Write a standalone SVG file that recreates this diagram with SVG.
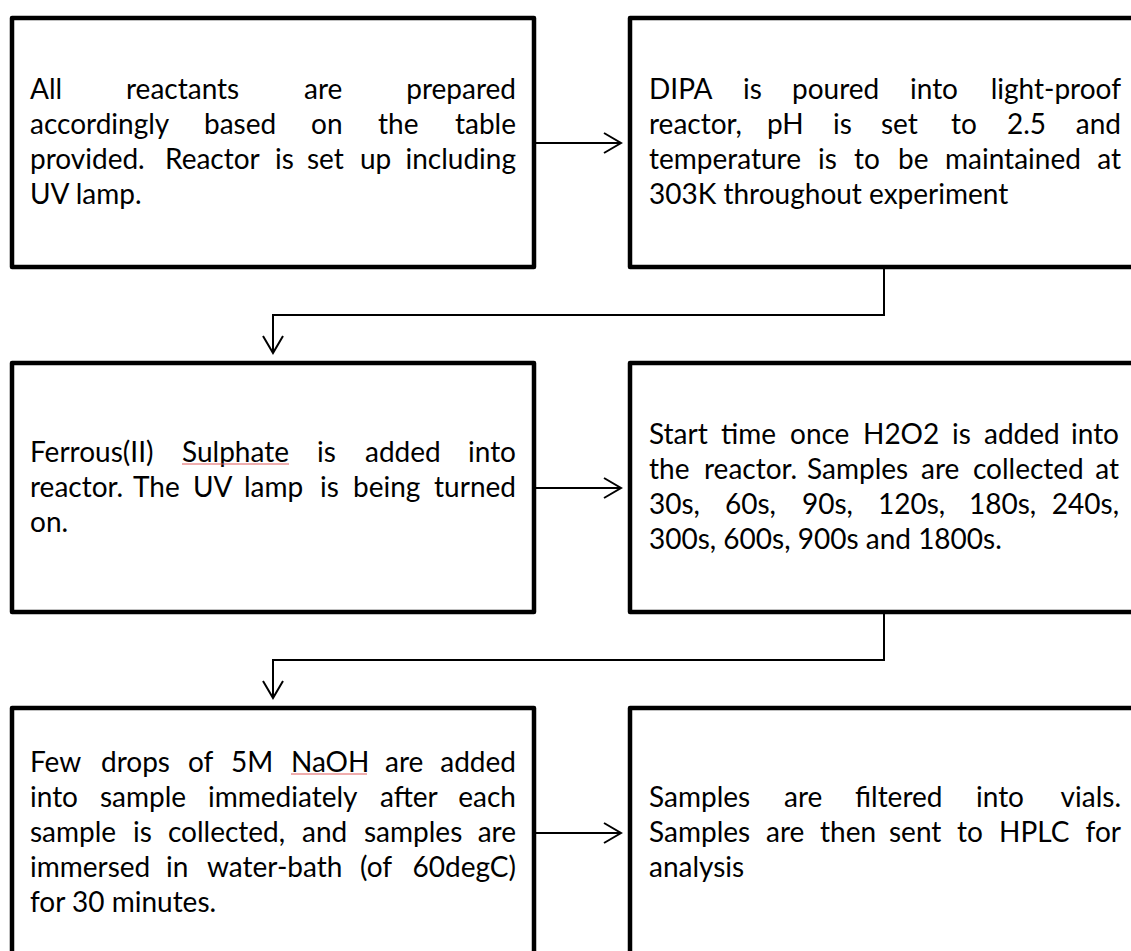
<svg xmlns="http://www.w3.org/2000/svg" width="1131" height="951" viewBox="0 0 1131 951">
<defs>
<style>
.box{fill:#fff;stroke:#000;stroke-width:4.5;stroke-linejoin:round}
.t{font-family:Lato,"Liberation Sans",sans-serif;font-size:28px;fill:#000}
.e{text-anchor:end}
.c{fill:none;stroke:#000;stroke-width:2}
.u{stroke:#e05a5a;stroke-width:1}
</style>
</defs>
<rect width="1131" height="951" fill="#fff"/>
<g id="node1">
<rect class="box" x="12" y="18" width="522" height="249"/>
<text class="t" y="99"><tspan x="30">All</tspan><tspan x="126">reactants</tspan><tspan x="304">are</tspan></text>
<text class="t e" x="516" y="99">prepared</text>
<text class="t" y="134"><tspan x="30">accordingly</tspan><tspan x="204">based</tspan><tspan x="311">on</tspan><tspan x="378">the</tspan></text>
<text class="t e" x="516" y="134">table</text>
<text class="t" y="169"><tspan x="30">provided.</tspan><tspan x="165">Reactor</tspan><tspan x="275">is</tspan><tspan x="307">set</tspan><tspan x="360">up</tspan></text>
<text class="t e" x="516" y="169">including</text>
<text class="t" x="30" y="204">UV lamp.</text>
</g>
<g id="node2">
<rect class="box" x="630" y="18" width="515" height="249"/>
<text class="t" y="99"><tspan x="649">DIPA</tspan><tspan x="743">is</tspan><tspan x="792">poured</tspan><tspan x="910">into</tspan></text>
<text class="t e" x="1121" y="99">light-proof</text>
<text class="t" y="134"><tspan x="649">reactor,</tspan><tspan x="767">pH</tspan><tspan x="833">is</tspan><tspan x="881">set</tspan><tspan x="951">to</tspan><tspan x="1007">2.5</tspan></text>
<text class="t e" x="1121" y="134">and</text>
<text class="t" y="169"><tspan x="649">temperature</tspan><tspan x="818">is</tspan><tspan x="854">to</tspan><tspan x="898">be</tspan><tspan x="945">maintained</tspan></text>
<text class="t e" x="1121" y="169">at</text>
<text class="t" x="649" y="204">303K throughout experiment</text>
</g>
<g id="node3">
<rect class="box" x="12" y="363" width="522" height="249"/>
<text class="t" y="462"><tspan x="30">Ferrous(II)</tspan><tspan x="182">Sulphate</tspan><tspan x="317">is</tspan><tspan x="365">added</tspan></text>
<text class="t e" x="516" y="462">into</text>
<line class="u" x1="182" y1="464" x2="289" y2="464"/>
<text class="t" y="497"><tspan x="30">reactor.</tspan><tspan x="133">The</tspan><tspan x="193">UV</tspan><tspan x="244">lamp</tspan><tspan x="320">is</tspan><tspan x="353">being</tspan></text>
<text class="t e" x="516" y="497">turned</text>
<text class="t" x="30" y="532">on.</text>
</g>
<g id="node4">
<rect class="box" x="630" y="363" width="515" height="249"/>
<text class="t" y="444"><tspan x="649">Start</tspan><tspan x="721">time</tspan><tspan x="790">once</tspan><tspan x="863">H2O2</tspan><tspan x="952">is</tspan><tspan x="984">added</tspan></text>
<text class="t e" x="1119" y="444">into</text>
<text class="t" y="479"><tspan x="649">the</tspan><tspan x="704">reactor.</tspan><tspan x="807">Samples</tspan><tspan x="921">are</tspan><tspan x="973">collected</tspan></text>
<text class="t e" x="1119" y="479">at</text>
<text class="t" y="514"><tspan x="649">30s,</tspan><tspan x="725">60s,</tspan><tspan x="802">90s,</tspan><tspan x="878">120s,</tspan><tspan x="969">180s,</tspan></text>
<text class="t e" x="1119" y="514">240s,</text>
<text class="t" x="649" y="549">300s, 600s, 900s and 1800s.</text>
</g>
<g id="node5">
<rect class="box" x="12" y="708" width="522" height="249"/>
<text class="t" y="772"><tspan x="30">Few</tspan><tspan x="101">drops</tspan><tspan x="188">of</tspan><tspan x="231">5M</tspan><tspan x="291">NaOH</tspan><tspan x="385">are</tspan></text>
<text class="t e" x="516" y="772">added</text>
<line class="u" x1="291" y1="774" x2="367" y2="774"/>
<text class="t" y="807"><tspan x="30">into</tspan><tspan x="100">sample</tspan><tspan x="208">immediately</tspan><tspan x="380">after</tspan></text>
<text class="t e" x="516" y="807">each</text>
<text class="t" y="842"><tspan x="30">sample</tspan><tspan x="133">is</tspan><tspan x="168">collected,</tspan><tspan x="302">and</tspan><tspan x="364">samples</tspan></text>
<text class="t e" x="516" y="842">are</text>
<text class="t" y="877"><tspan x="30">immersed</tspan><tspan x="166">in</tspan><tspan x="207">water-bath</tspan><tspan x="360">(of</tspan></text>
<text class="t e" x="516" y="877">60degC)</text>
<text class="t" x="30" y="912">for 30 minutes.</text>
</g>
<g id="node6">
<rect class="box" x="630" y="708" width="515" height="249"/>
<text class="t" y="807"><tspan x="649">Samples</tspan><tspan x="784">are</tspan><tspan x="855">filtered</tspan><tspan x="976">into</tspan></text>
<text class="t e" x="1121" y="807">vials.</text>
<text class="t" y="842"><tspan x="649">Samples</tspan><tspan x="766">are</tspan><tspan x="820">then</tspan><tspan x="889">sent</tspan><tspan x="957">to</tspan><tspan x="999">HPLC</tspan></text>
<text class="t e" x="1121" y="842">for</text>
<text class="t" x="649" y="877">analysis</text>
</g>
<g id="connectors">
<path class="c" d="M536 143H621M604 133L621 143L604 153"/>
<path class="c" d="M884 269V315H273V353M263 336L273 353L283 336"/>
<path class="c" d="M536 488H621M604 478L621 488L604 498"/>
<path class="c" d="M884 614V660H273V698M263 681L273 698L283 681"/>
<path class="c" d="M536 833H621M604 823L621 833L604 843"/>
</g>
</svg>
